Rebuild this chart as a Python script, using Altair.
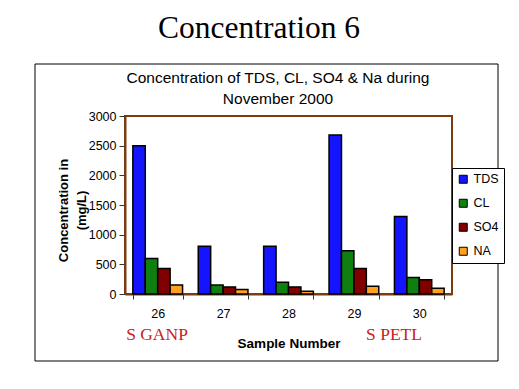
import altair as alt
import pandas as pd

samples = ["26", "27", "28", "29", "30"]
series = ["TDS", "CL", "SO4", "NA"]
tds = [2500, 805, 805, 2680, 1305]
cl = [600, 150, 200, 730, 280]
so4 = [430, 120, 120, 430, 240]
na = [150, 75, 45, 130, 95]
colors = ["#1414ff", "#0f800f", "#800000", "#ffa020"]
y_ticks = [0, 500, 1000, 1500, 2000, 2500, 3000]

main_title = ["Concentration 6"]
chart_title = ["Concentration of TDS, CL, SO4 & Na during", "November 2000"]
site_labels = ["S GANP", "S PETL"]
y_title = ["Concentration in", "(mg/L)"]
x_title = "Sample Number"

rows = []
for name, vals in zip(series, [tds, cl, so4, na]):
    for s, v in zip(samples, vals):
        rows.append({"Sample": s, "Parameter": name, "Value": v})
df = pd.DataFrame(rows)

W, H = 327, 178
SANS = "Liberation Sans"
SERIF = "Liberation Serif"
BROWN = "#7a3c10"

frame = alt.Chart(pd.DataFrame({"a": [0]})).mark_rect(
    filled=False, stroke="black", strokeWidth=1
).encode(x=alt.value(-90), x2=alt.value(373), y=alt.value(-52), y2=alt.value(245))

bars = alt.Chart(df).mark_bar(stroke="black", strokeWidth=1.5).encode(
    x=alt.X("Sample:N", sort=samples,
            scale=alt.Scale(paddingInner=0.24, paddingOuter=0.12),
            axis=alt.Axis(title=x_title, labelAngle=0, tickBand="extent",
                          tickSize=5, tickColor="#333333", labelPadding=8,
                          labelFont=SANS, labelFontSize=12.5, labelColor="black",
                          titleFont=SANS, titleFontSize=13.5, titleFontWeight="bold",
                          titleColor="black", titleY=42,
                          domainColor=BROWN, domainWidth=2)),
    xOffset=alt.XOffset("Parameter:N", sort=series,
                        scale=alt.Scale(paddingInner=0, paddingOuter=0)),
    y=alt.Y("Value:Q", scale=alt.Scale(domain=[0, 3000], nice=False),
            axis=alt.Axis(values=y_ticks, format="d", title=y_title, grid=False,
                          tickSize=6, tickColor="#333333", labelPadding=3,
                          labelFont=SANS, labelFontSize=12.5, labelColor="black",
                          titleFont=SANS, titleFontSize=13, titleFontWeight="bold",
                          titleColor="black", titleLineHeight=18,
                          titleX=-62, titleY=94, titleAlign="center",
                          titleBaseline="middle", titleAngle=270,
                          domainColor=BROWN, domainWidth=2)),
    color=alt.Color("Parameter:N", sort=series,
                    scale=alt.Scale(domain=series, range=colors),
                    legend=alt.Legend(title=None, orient="none", legendX=327, legendY=52,
                                      strokeColor="black", fillColor="white",
                                      padding=5, rowPadding=11, symbolType="square",
                                      symbolSize=64, symbolStrokeColor="black",
                                      symbolStrokeWidth=1, labelFont=SANS,
                                      labelFontSize=12.5, labelOffset=4, labelColor="black")),
)

t_main = alt.Chart(pd.DataFrame({"t": main_title})).mark_text(
    font=SERIF, fontSize=31.5, color="black", align="center", baseline="alphabetic"
).encode(text="t:N", x=alt.value(134), y=alt.value(-78))

t_chart1 = alt.Chart(pd.DataFrame({"t": chart_title[:1]})).mark_text(
    font=SANS, fontSize=15.5, color="black", align="center", baseline="alphabetic"
).encode(text="t:N", x=alt.value(153), y=alt.value(-33))

t_chart2 = alt.Chart(pd.DataFrame({"t": chart_title[1:]})).mark_text(
    font=SANS, fontSize=15.5, color="black", align="center", baseline="alphabetic"
).encode(text="t:N", x=alt.value(153), y=alt.value(-12))

t_site1 = alt.Chart(pd.DataFrame({"t": site_labels[:1]})).mark_text(
    font=SERIF, fontSize=17.5, color="#cc2020", align="center", baseline="alphabetic"
).encode(text="t:N", x=alt.value(32), y=alt.value(224))

t_site2 = alt.Chart(pd.DataFrame({"t": site_labels[1:]})).mark_text(
    font=SERIF, fontSize=17.5, color="#cc2020", align="center", baseline="alphabetic"
).encode(text="t:N", x=alt.value(269), y=alt.value(224))

chart = alt.layer(frame, bars, t_main, t_chart1, t_chart2, t_site1, t_site2).properties(
    width=W, height=H,
    autosize=alt.AutoSizeParams(type="none"),
    padding={"left": 117, "top": 108, "right": 55, "bottom": 80},
    background="white",
).configure_view(stroke=BROWN, strokeWidth=2)

chart.save("out.html", embed_options={"renderer": "svg", "actions": False})
